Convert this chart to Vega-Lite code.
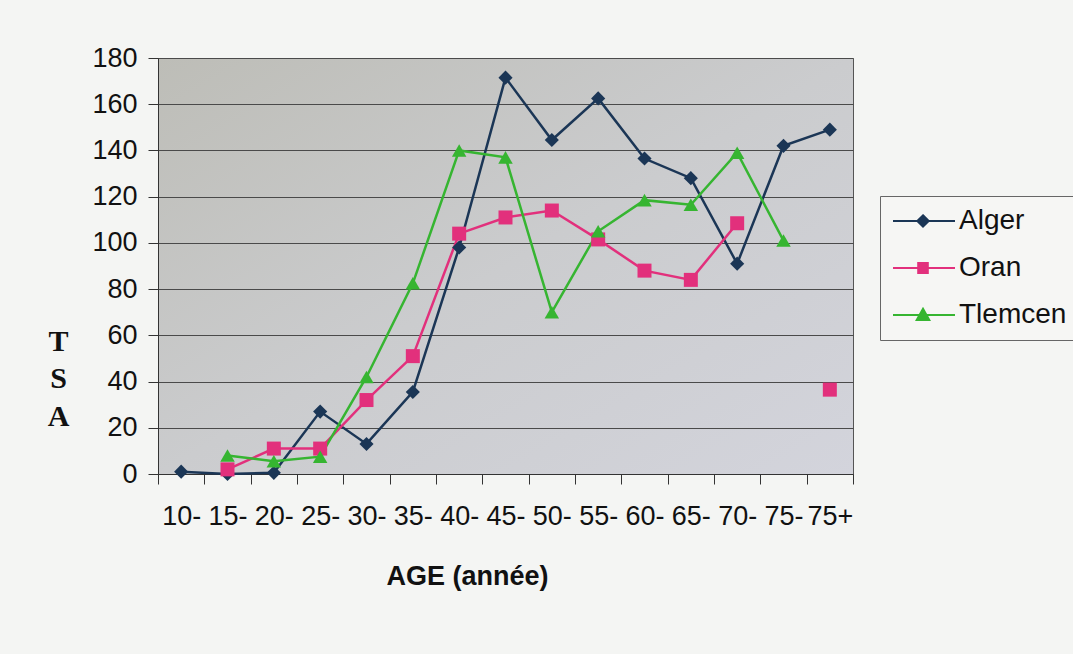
{
  "$schema": "https://vega.github.io/schema/vega-lite/v6.json",
  "autosize": {"type": "none"},
  "width": 695,
  "height": 416,
  "padding": {"left": 158, "top": 58, "right": 220, "bottom": 180},
  "background": "#f4f5f3",
  "config": {
    "font": "Liberation Sans",
    "view": {
      "stroke": "#555555",
      "strokeWidth": 1,
      "fill": {
        "gradient": "linear",
        "x1": 0, "y1": 0, "x2": 1, "y2": 1,
        "stops": [
          {"offset": 0, "color": "#bdbdb7"},
          {"offset": 0.5, "color": "#cbccce"},
          {"offset": 1, "color": "#d3d4dc"}
        ]
      }
    }
  },
  "data": {
    "values": [
      {"age": "10-", "ville": "Alger", "tsa": 1},
      {"age": "15-", "ville": "Alger", "tsa": 0},
      {"age": "20-", "ville": "Alger", "tsa": 0.5},
      {"age": "25-", "ville": "Alger", "tsa": 27},
      {"age": "30-", "ville": "Alger", "tsa": 13},
      {"age": "35-", "ville": "Alger", "tsa": 35.5},
      {"age": "40-", "ville": "Alger", "tsa": 98},
      {"age": "45-", "ville": "Alger", "tsa": 171.5},
      {"age": "50-", "ville": "Alger", "tsa": 144.5},
      {"age": "55-", "ville": "Alger", "tsa": 162.5},
      {"age": "60-", "ville": "Alger", "tsa": 136.5},
      {"age": "65-", "ville": "Alger", "tsa": 128},
      {"age": "70-", "ville": "Alger", "tsa": 91},
      {"age": "75-", "ville": "Alger", "tsa": 142},
      {"age": "75+", "ville": "Alger", "tsa": 149},
      {"age": "15-", "ville": "Oran", "tsa": 2},
      {"age": "20-", "ville": "Oran", "tsa": 11},
      {"age": "25-", "ville": "Oran", "tsa": 11},
      {"age": "30-", "ville": "Oran", "tsa": 32},
      {"age": "35-", "ville": "Oran", "tsa": 51},
      {"age": "40-", "ville": "Oran", "tsa": 104},
      {"age": "45-", "ville": "Oran", "tsa": 111},
      {"age": "50-", "ville": "Oran", "tsa": 114},
      {"age": "55-", "ville": "Oran", "tsa": 101.5},
      {"age": "60-", "ville": "Oran", "tsa": 88},
      {"age": "65-", "ville": "Oran", "tsa": 84},
      {"age": "70-", "ville": "Oran", "tsa": 108.5},
      {"age": "75-", "ville": "Oran", "tsa": null},
      {"age": "75+", "ville": "Oran", "tsa": 36.5},
      {"age": "15-", "ville": "Tlemcen", "tsa": 8},
      {"age": "20-", "ville": "Tlemcen", "tsa": 5.5},
      {"age": "25-", "ville": "Tlemcen", "tsa": 7.5},
      {"age": "30-", "ville": "Tlemcen", "tsa": 42},
      {"age": "35-", "ville": "Tlemcen", "tsa": 82.5},
      {"age": "40-", "ville": "Tlemcen", "tsa": 140},
      {"age": "45-", "ville": "Tlemcen", "tsa": 137},
      {"age": "50-", "ville": "Tlemcen", "tsa": 70},
      {"age": "55-", "ville": "Tlemcen", "tsa": 105},
      {"age": "60-", "ville": "Tlemcen", "tsa": 118.5},
      {"age": "65-", "ville": "Tlemcen", "tsa": 116.5},
      {"age": "70-", "ville": "Tlemcen", "tsa": 139},
      {"age": "75-", "ville": "Tlemcen", "tsa": 101}
    ]
  },
  "encoding": {
    "x": {
      "field": "age",
      "type": "nominal",
      "bandPosition": 0.5,
      "scale": {
        "type": "band",
        "paddingInner": 0,
        "paddingOuter": 0,
        "domain": ["10-", "15-", "20-", "25-", "30-", "35-", "40-", "45-", "50-", "55-", "60-", "65-", "70-", "75-", "75+"]
      },
      "axis": {
        "title": "AGE (année)",
        "titleFont": "Liberation Sans",
        "titleFontSize": 27,
        "titleFontWeight": "bold",
        "titleColor": "#111111",
        "titleX": 309,
        "titleY": 110,
        "titleAlign": "center",
        "titleAnchor": null,
        "titleBaseline": "alphabetic",
        "labelAngle": 0,
        "labelFontSize": 27,
        "labelColor": "#111111",
        "labelPadding": 19,
        "tickBand": "extent",
        "tickSize": 10,
        "tickColor": "#333333",
        "domainColor": "#333333",
        "grid": false
      }
    },
    "y": {
      "field": "tsa",
      "type": "quantitative",
      "scale": {"domain": [0, 180], "nice": false},
      "axis": {
        "values": [0, 20, 40, 60, 80, 100, 120, 140, 160, 180],
        "title": ["T", "S", "A"],
        "titleFont": "Liberation Serif",
        "titleFontSize": 30,
        "titleFontWeight": "bold",
        "titleColor": "#111111",
        "titleAngle": 0,
        "titleX": -100,
        "titleY": 292,
        "titleAlign": "center",
        "titleBaseline": "alphabetic",
        "titleLineHeight": 37.5,
        "labelFontSize": 27,
        "labelColor": "#111111",
        "labelPadding": 11,
        "tickSize": 10,
        "tickColor": "#333333",
        "domainColor": "#333333",
        "grid": true,
        "gridColor": "#4a4a4a",
        "gridWidth": 1,
        "gridOpacity": 1
      }
    }
  },
  "layer": [
    {
      "mark": {"type": "point", "filled": true, "strokeWidth": 2, "opacity": 0},
      "encoding": {
        "fill": {
          "field": "ville",
          "type": "nominal",
          "scale": {"domain": ["Alger", "Oran", "Tlemcen"], "range": ["#1b3656", "#e2307c", "#36b531"]},
          "legend": {
            "title": null,
            "orient": "none",
            "legendX": 722,
            "legendY": 138,
            "padding": 11,
            "fillColor": "#f6f6f4",
            "strokeColor": "#666666",
            "labelFontSize": 28,
            "labelColor": "#111111",
            "labelOffset": 40,
            "rowPadding": 19,
            "symbolSize": 144,
            "symbolStrokeWidth": 2,
            "symbolOpacity": 1
          }
        },
        "stroke": {
          "field": "ville",
          "type": "nominal",
          "scale": {"domain": ["Alger", "Oran", "Tlemcen"], "range": ["#1b3656", "#e2307c", "#36b531"]},
          "legend": {
            "title": null,
            "orient": "none",
            "legendX": 722,
            "legendY": 138,
            "padding": 11,
            "fillColor": "#f6f6f4",
            "strokeColor": "#666666",
            "labelFontSize": 28,
            "labelColor": "#111111",
            "labelOffset": 40,
            "rowPadding": 19,
            "symbolSize": 144,
            "symbolStrokeWidth": 2,
            "symbolOpacity": 1
          }
        },
        "shape": {
          "field": "ville",
          "type": "nominal",
          "scale": {
            "domain": ["Alger", "Oran", "Tlemcen"],
            "range": [
              "M-2,0H8.33M3,-0.95L3.95,0L3,0.95L2.05,0Z",
              "M-2,0H8.33M2.2,-0.85H3.8V0.85H2.2Z",
              "M-2,0H8.33M3,-1.05L4.05,0.85H1.95Z"
            ]
          },
          "legend": {
            "title": null,
            "orient": "none",
            "legendX": 722,
            "legendY": 138,
            "padding": 11,
            "fillColor": "#f6f6f4",
            "strokeColor": "#666666",
            "labelFontSize": 28,
            "labelColor": "#111111",
            "labelOffset": 40,
            "rowPadding": 19,
            "symbolSize": 144,
            "symbolStrokeWidth": 2,
            "symbolOpacity": 1
          }
        }
      }
    },
    {
      "mark": {"type": "line", "strokeWidth": 2.5},
      "encoding": {
        "color": {
          "field": "ville",
          "type": "nominal",
          "legend": null,
          "scale": {
            "domain": ["Alger", "Oran", "Tlemcen"],
            "range": ["#1b3656", "#e2307c", "#36b531"]
          }
        }
      }
    },
    {
      "transform": [{"filter": "datum.ville === 'Alger'"}],
      "mark": {"type": "point", "filled": true, "size": 200, "opacity": 1, "shape": "diamond"},
      "encoding": {"color": {"field": "ville", "type": "nominal", "legend": null}}
    },
    {
      "transform": [{"filter": "datum.ville === 'Oran'"}],
      "mark": {"type": "point", "filled": true, "size": 196, "opacity": 1, "shape": "square"},
      "encoding": {"color": {"field": "ville", "type": "nominal", "legend": null}}
    },
    {
      "transform": [{"filter": "datum.ville === 'Tlemcen'"}],
      "mark": {"type": "point", "filled": true, "size": 210, "opacity": 1, "shape": "triangle-up"},
      "encoding": {"color": {"field": "ville", "type": "nominal", "legend": null}}
    }
  ]
}
